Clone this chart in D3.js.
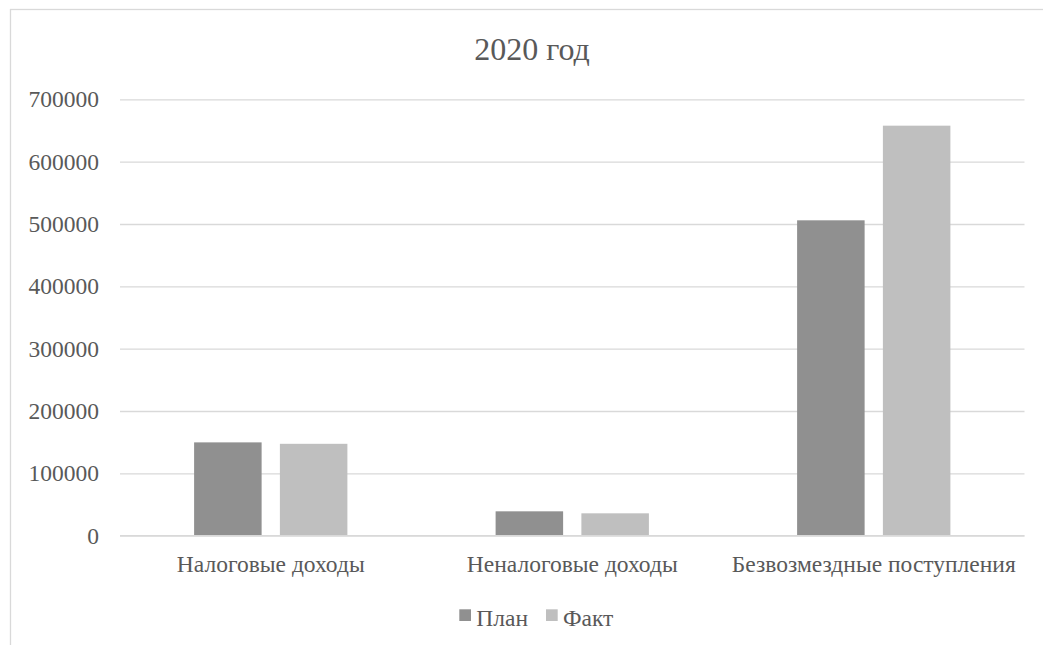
<!DOCTYPE html>
<html>
<head>
<meta charset="utf-8">
<script src="https://cdn.jsdelivr.net/npm/d3@7"></script>
<style>
  html, body { margin: 0; padding: 0; background: #fff; }
  svg { display: block; }
  svg text { font-family: "Liberation Serif", "Times New Roman", serif !important; fill: #595959; }
</style>
</head>
<body>
<svg id="chart" width="1043" height="645" font-family="Liberation Serif"></svg>
<script>
const title = "2020 год";
const categories = ["Налоговые доходы", "Неналоговые доходы", "Безвозмездные поступления"];
const seriesNames = ["План", "Факт"];
const planValues = [149700, 39100, 505900];
const factValues = [147400, 35900, 657700];
const yTicks = [0, 100000, 200000, 300000, 400000, 500000, 600000, 700000];
const colors = ["#909090", "#bfbfbf"];

const FONT = "'Liberation Serif', 'Times New Roman', serif";
const svg = d3.select("#chart");
const W = 1043, H = 645;
const plot = { left: 120, right: 1024.5, top: 99.3, bottom: 535.7 };

// chart frame
svg.append("rect")
  .attr("x", 10.5).attr("y", 9.5)
  .attr("width", W + 20).attr("height", H + 20)
  .attr("fill", "#fff").attr("stroke", "#d9d9d9").attr("stroke-width", 1.3);

const x0 = d3.scaleBand().domain(categories).range([plot.left, plot.right]).padding(0);
const x1 = d3.scaleBand().domain(seriesNames).range([0, x0.bandwidth()])
  .paddingInner(0.213).paddingOuter(0.864);
const y = d3.scaleLinear().domain([0, 700000]).range([plot.bottom, plot.top]);

// gridlines + y labels
const yAxis = d3.axisLeft(y).tickValues(yTicks).tickSize(-(plot.right - plot.left)).tickPadding(21)
  .tickFormat(d3.format("d"));
const gy = svg.append("g").attr("transform", `translate(${plot.left},0)`).call(yAxis)
  .attr("font-family", FONT);
gy.select(".domain").remove();
gy.selectAll(".tick line").attr("stroke", "#d9d9d9").attr("stroke-width", 1.3);
gy.selectAll(".tick text").attr("font-size", 23.5).attr("fill", "#595959")
  .style("font-family", FONT);

// bars
const data = categories.map((c, i) => ({ cat: c, vals: [planValues[i], factValues[i]] }));
const groups = svg.append("g").selectAll("g").data(data).join("g")
  .attr("transform", d => `translate(${x0(d.cat)},0)`);
groups.selectAll("rect").data(d => d.vals.map((v, j) => ({ s: seriesNames[j], v, j })))
  .join("rect")
  .attr("x", d => x1(d.s))
  .attr("width", x1.bandwidth())
  .attr("y", d => y(d.v))
  .attr("height", d => y(0) - y(d.v))
  .attr("fill", d => colors[d.j]);

// baseline
svg.append("line").attr("x1", plot.left).attr("x2", plot.right)
  .attr("y1", y(0)).attr("y2", y(0)).attr("stroke", "#d9d9d9").attr("stroke-width", 1.3);

// category labels
const xAxis = d3.axisBottom(x0).tickSize(0).tickPadding(20);
const gx = svg.append("g").attr("transform", `translate(0,${plot.bottom})`).call(xAxis)
  .attr("font-family", FONT);
gx.select(".domain").remove();
gx.selectAll(".tick text").attr("font-size", 23.5).attr("fill", "#595959")
  .style("font-family", FONT);

// title
svg.append("text").attr("x", 532).attr("y", 60).attr("text-anchor", "middle")
  .attr("font-size", 32).style("font-family", FONT).text(title);

// legend
const legend = svg.append("g").attr("font-family", FONT);
const legendX = [459.3, 546];
seriesNames.forEach((s, i) => {
  legend.append("rect").attr("x", legendX[i]).attr("y", 609.3).attr("width", 11.7).attr("height", 11.7)
    .attr("fill", colors[i]);
  legend.append("text").attr("x", legendX[i] + 17).attr("y", 625.5).attr("font-size", 23.5)
    .style("font-family", FONT).text(s);
});
</script>
</body>
</html>
